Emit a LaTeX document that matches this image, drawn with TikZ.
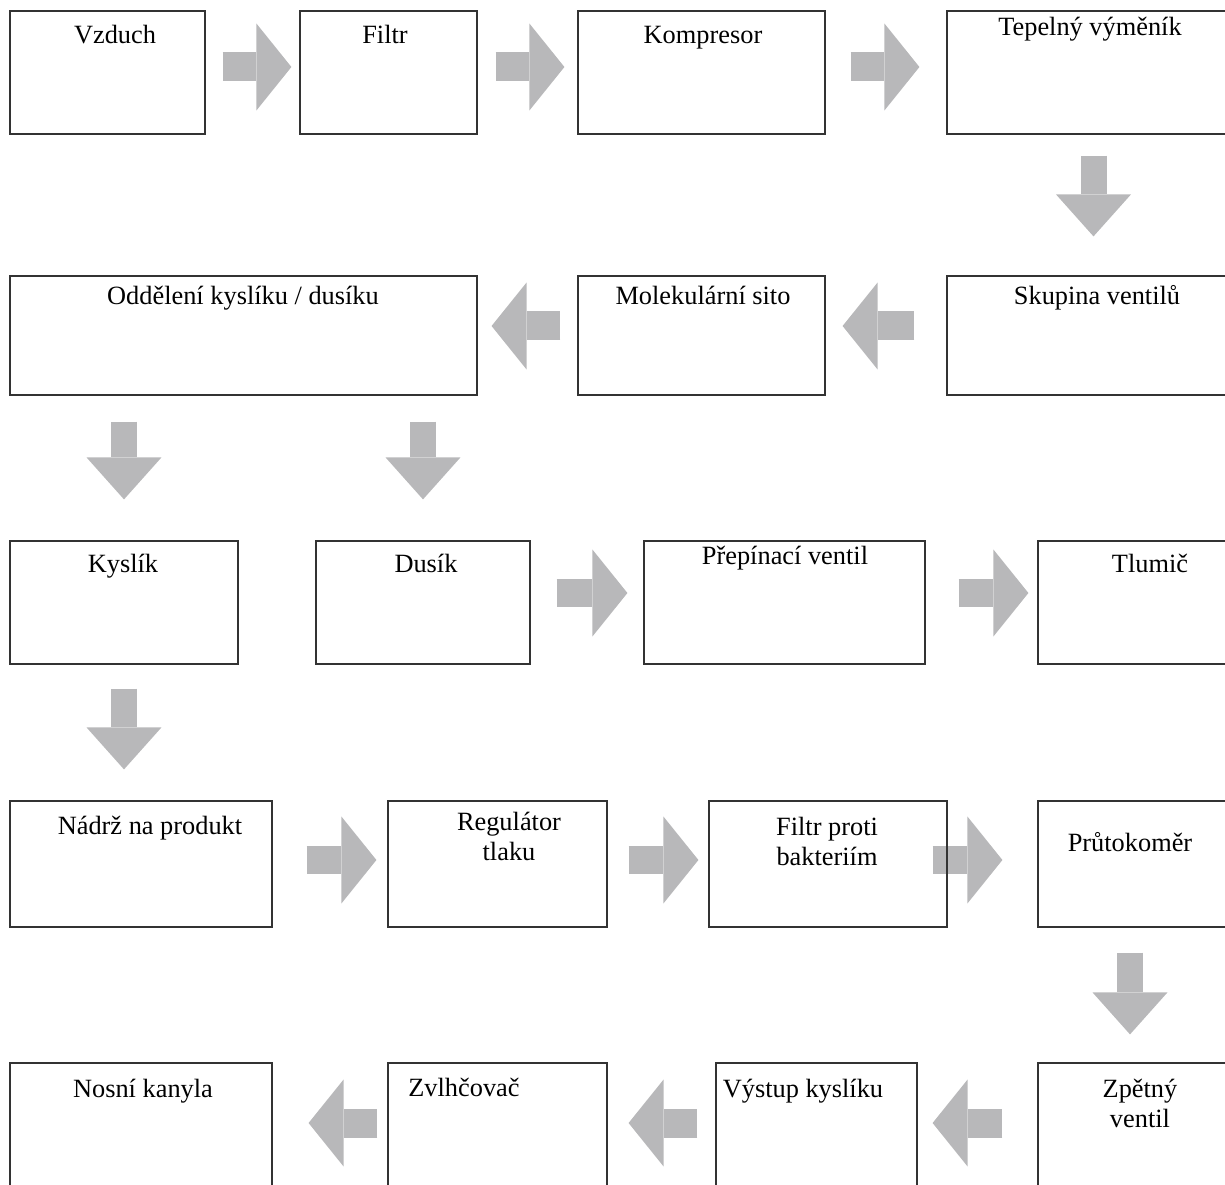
\documentclass[tikz,border=0pt]{standalone}
\usepackage{fontspec}
\setmainfont{Liberation Serif}
\usepackage{tikz}
\usetikzlibrary{arrows.meta,backgrounds}
\definecolor{arrowgray}{RGB}{184,184,186}

\begin{document}
\begin{tikzpicture}[x=0.02cm, y=-0.02cm,
  stage/.style={rectangle, draw=black!80, line width=0.7pt, inner sep=0pt},
  stagetext/.style={inner sep=0pt, anchor=base, align=center, font=\fontsize{15pt}{17pt}\selectfont},
  arrowh/.style={draw=arrowgray, line width=0.58cm, -{Triangle[length=0.7cm, width=1.74cm, line width=0pt]}},
  arrowv/.style={draw=arrowgray, line width=0.52cm, -{Triangle[length=0.84cm, width=1.5cm, line width=0pt]}}]
  \useasboundingbox (0,0) rectangle (1225,1185);
  \clip (0,0) rectangle (1225,1185);
  % row 1
  \node[stage, minimum width=3.9cm, minimum height=2.46cm] (vzduch) at (107.5,72.5) {};
  \node[stage, minimum width=3.54cm, minimum height=2.46cm] (filtr) at (388.5,72.5) {};
  \node[stage, minimum width=4.94cm, minimum height=2.46cm] (kompresor) at (701.5,72.5) {};
  \node[stage, minimum width=5.86cm, minimum height=2.46cm] (vymenik) at (1093.5,72.5) {};
  % row 2
  \node[stage, minimum width=9.34cm, minimum height=2.38cm] (oddeleni) at (243.5,335.5) {};
  \node[stage, minimum width=4.94cm, minimum height=2.38cm] (sito) at (701.5,335.5) {};
  \node[stage, minimum width=5.86cm, minimum height=2.38cm] (ventily) at (1093.5,335.5) {};
  % row 3
  \node[stage, minimum width=4.56cm, minimum height=2.46cm] (kyslik) at (124,602.5) {};
  \node[stage, minimum width=4.28cm, minimum height=2.46cm] (dusik) at (423,602.5) {};
  \node[stage, minimum width=5.62cm, minimum height=2.46cm] (prepinac) at (784.5,602.5) {};
  \node[stage, minimum width=4.44cm, minimum height=2.46cm] (tlumic) at (1149,602.5) {};
  % row 4
  \node[stage, minimum width=5.24cm, minimum height=2.52cm] (nadrz) at (141,864) {};
  \node[stage, minimum width=4.38cm, minimum height=2.52cm] (regulator) at (497.5,864) {};
  \node[stage, minimum width=4.76cm, minimum height=2.52cm] (bakterie) at (828,864) {};
  \node[stage, minimum width=4.14cm, minimum height=2.52cm] (prutokomer) at (1141.5,864) {};
  % row 5
  \node[stage, minimum width=5.24cm, minimum height=2.74cm] (kanyla) at (141,1131.5) {};
  \node[stage, minimum width=4.38cm, minimum height=2.74cm] (zvlhcovac) at (497.5,1131.5) {};
  \node[stage, minimum width=4.02cm, minimum height=2.74cm] (vystup) at (816.5,1131.5) {};
  \node[stage, minimum width=4.14cm, minimum height=2.74cm] (zpetny) at (1141.5,1131.5) {};
  % texts
  \node[stagetext] (vzduch-t) at (115,44) {Vzduch};
  \node[stagetext] (filtr-t) at (385,44) {Filtr};
  \node[stagetext] (kompresor-t) at (703,44) {Kompresor};
  \node[stagetext] (vymenik-t) at (1090,36) {Tepelný výměník};
  \node[stagetext] (oddeleni-t) at (243,305) {Oddělení kyslíku / dusíku};
  \node[stagetext] (sito-t) at (703,305) {Molekulární sito};
  \node[stagetext] (ventily-t) at (1097,305) {Skupina ventilů};
  \node[stagetext] (kyslik-t) at (123,573) {Kyslík};
  \node[stagetext] (dusik-t) at (426,573) {Dusík};
  \node[stagetext] (prepinac-t) at (785,565) {Přepínací ventil};
  \node[stagetext] (tlumic-t) at (1150,573) {Tlumič};
  \node[stagetext] (nadrz-t) at (150,835) {Nádrž na produkt};
  \node[stagetext, anchor=north] (regulator-t) at (509,812) {Regulátor\\tlaku};
  \node[stagetext, anchor=north] (bakterie-t) at (827,817) {Filtr proti\\bakteriím};
  \node[stagetext] (prutokomer-t) at (1130,852) {Průtokoměr};
  \node[stagetext] (kanyla-t) at (143,1097) {Nosní kanyla};
  \node[stagetext] (zvlhcovac-t) at (464,1096) {Zvlhčovač};
  \node[stagetext] (vystup-t) at (803,1097) {Výstup kyslíku};
  \node[stagetext, anchor=north] (zpetny-t) at (1140,1079) {Zpětný\\ventil};
  % block arrows
  \begin{scope}[on background layer]
    \draw[arrowh, shorten <=0.34cm, shorten >=0.16cm] ([yshift=0.11cm]vzduch.east) -- ([yshift=0.11cm]filtr.west);
    \draw[arrowh, shorten <=0.36cm, shorten >=0.26cm] ([yshift=0.11cm]filtr.east) -- ([yshift=0.11cm]kompresor.west);
    \draw[arrowh, shorten <=0.5cm, shorten >=0.54cm] ([yshift=0.11cm]kompresor.east) -- ([yshift=0.11cm]vymenik.west);
    \draw[arrowv, shorten <=0.42cm, shorten >=0.78cm] (vymenik.south) -- (ventily.north);
    \draw[arrowh, shorten <=0.64cm, shorten >=0.34cm] ([yshift=0.19cm]ventily.west) -- ([yshift=0.19cm]sito.east);
    \draw[arrowh, shorten <=0.34cm, shorten >=0.28cm] ([yshift=0.19cm]sito.west) -- ([yshift=0.19cm]oddeleni.east);
    \draw[arrowv, shorten <=0.52cm, shorten >=0.82cm] (oddeleni.south -| kyslik.north) -- (kyslik.north);
    \draw[arrowv, shorten <=0.52cm, shorten >=0.82cm] (oddeleni.south -| dusik.north) -- (dusik.north);
    \draw[arrowh, shorten <=0.52cm, shorten >=0.32cm] ([yshift=0.19cm]dusik.east) -- ([yshift=0.19cm]prepinac.west);
    \draw[arrowh, shorten <=0.66cm, shorten >=0.18cm] ([yshift=0.19cm]prepinac.east) -- ([yshift=0.19cm]tlumic.west);
    \draw[arrowv, shorten <=0.48cm, shorten >=0.62cm] (kyslik.south) -- (kyslik.south |- nadrz.north);
    \draw[arrowh, shorten <=0.68cm, shorten >=0.22cm] ([yshift=0.08cm]nadrz.east) -- ([yshift=0.08cm]regulator.west);
    \draw[arrowh, shorten <=0.42cm, shorten >=0.2cm] ([yshift=0.08cm]regulator.east) -- ([yshift=0.08cm]bakterie.west);
    \draw[arrowh, shorten <=-0.3cm, shorten >=0.7cm] ([yshift=0.08cm]bakterie.east) -- ([yshift=0.08cm]prutokomer.west);
    \draw[arrowv, shorten <=0.5cm, shorten >=0.56cm] ([xshift=-0.23cm]prutokomer.south) -- ([xshift=-0.23cm]zpetny.north);
    \draw[arrowh, shorten <=0.7cm, shorten >=0.3cm] ([yshift=0.17cm]zpetny.west) -- ([yshift=0.17cm]vystup.east);
    \draw[arrowh, shorten <=0.36cm, shorten >=0.42cm] ([yshift=0.17cm]vystup.west) -- ([yshift=0.17cm]zvlhcovac.east);
    \draw[arrowh, shorten <=0.2cm, shorten >=0.72cm] ([yshift=0.17cm]zvlhcovac.west) -- ([yshift=0.17cm]kanyla.east);
  \end{scope}
\end{tikzpicture}
\end{document}
